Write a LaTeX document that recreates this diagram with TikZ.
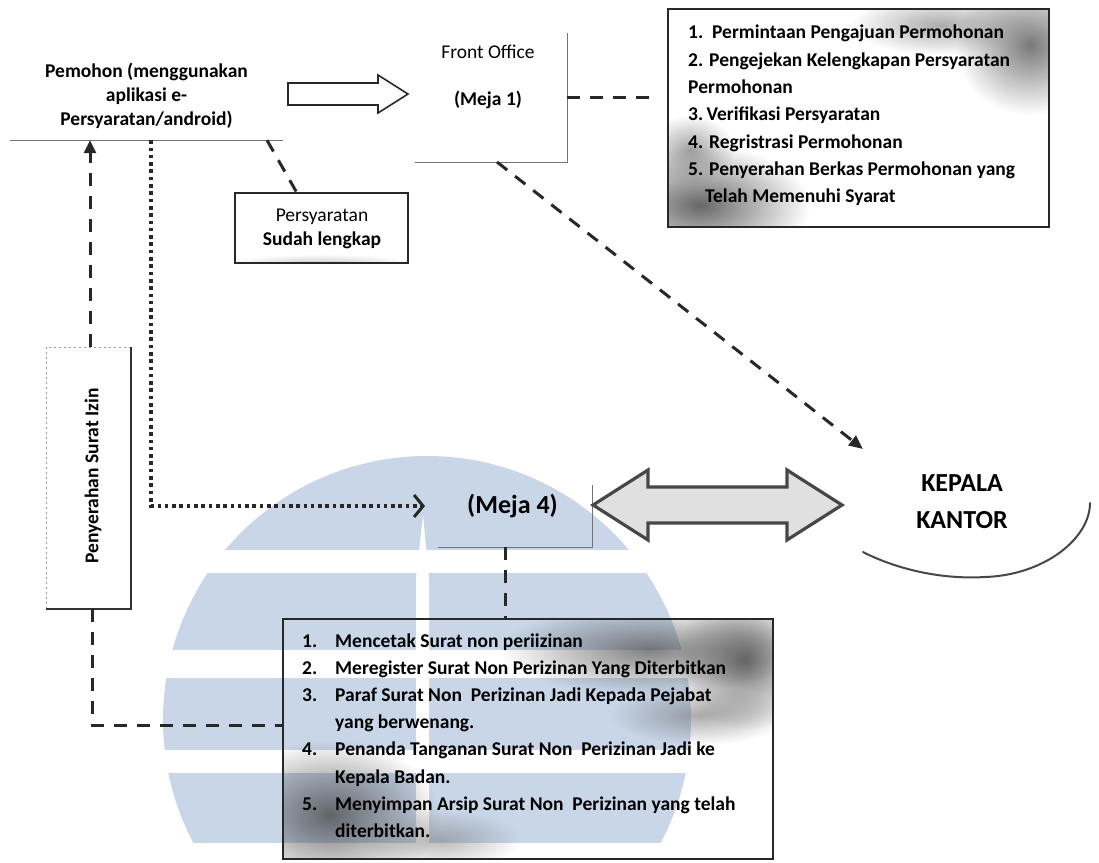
\documentclass[tikz,border=0pt]{standalone}
\usepackage{fontspec}
\setmainfont{Carlito}
\usetikzlibrary{arrows.meta,fadings,calc}
\definecolor{wmblue}{RGB}{200,214,232}
\definecolor{ink}{RGB}{40,40,40}
\tikzfading[name=softspot, inner color=transparent!0, outer color=transparent!100]
\begin{document}
\begin{tikzpicture}[x=1pt,y=-1pt,
  txt/.style={font=\fontsize{19.5}{24}\selectfont, inner sep=0pt, align=center},
  btxt/.style={font=\fontsize{19.5}{24}\selectfont\bfseries, inner sep=0pt, align=center},
  bigtxt/.style={font=\fontsize{26}{37}\selectfont\bfseries, inner sep=0pt, align=center},
  ltxt/.style={font=\fontsize{19.5}{27}\selectfont\bfseries, inner sep=0pt},
  frame/.style={inner sep=0pt, outer sep=0pt},
  edge/.style={draw=black!55, line width=1pt},
  boxline/.style={draw=ink, line width=1.3pt},
  dashline/.style={draw=ink, line width=3pt, dash pattern=on 13pt off 10pt},
  dotline/.style={draw=ink, line width=3.6pt, dash pattern=on 3.6pt off 3.7pt},
  hollow/.style={draw=ink, line width=1.6pt, fill=white, line join=miter},
  blockarrow/.style={draw=black!72, line width=3.2pt, fill=black!12, line join=miter},
  spot/.style={path fading=softspot, fill opacity=#1},
  spot/.default=0.6
]
\useasboundingbox (0,0) rectangle (1099,862);

% faint logo in the background
\begin{scope}
  \clip (427,720) circle (264);
  \fill[wmblue] (0,440) rectangle (1099,550);
  \fill[wmblue] (0,573) rectangle (1099,650);
  \fill[wmblue] (0,678) rectangle (1099,750);
  \fill[wmblue] (0,773) rectangle (1099,843);
\end{scope}
\fill[white] (423,515) -- (416,578) -- (416,862) -- (429,862) -- (429,578) -- cycle;

% applicant
\node[btxt, minimum width=273pt, minimum height=88pt] (pem) at (146.5,96)
  {Pemohon (menggunakan\\aplikasi e-\\Persyaratan/android)};
\draw[edge] (pem.south west) -- (pem.south east);

% front office
\node[frame, minimum width=152pt, minimum height=129pt] (fo) at (491,97.5) {};
\draw[edge] (fo.north east) -- (fo.south east) -- (fo.south west);
\node[txt] (fot) at (488,52) {Front Office};
\node[btxt] (m1) at (488,100) {(Meja 1)};

% hollow arrow applicant -> front office
\draw[hollow] (288,83) -- (378,83) -- (378,75) -- (408,94) -- (378,113)
  -- (378,105) -- (288,105) -- cycle;

% front office task list
\node[frame, minimum width=381pt, minimum height=218pt] (fl) at (858.5,118) {};
\begin{scope}
  \clip (fl.north west) rectangle (fl.south east);
  \fill[black!70, spot=0.75] (1030,45) ellipse [x radius=75, y radius=70];
  \fill[black!55, spot=0.6] (940,25) ellipse [x radius=90, y radius=30];
  \fill[black!75, spot=0.8] (700,205) ellipse [x radius=110, y radius=60];
  \fill[black!60, spot=0.6] (690,150) ellipse [x radius=45, y radius=35];
\end{scope}
\draw[boxline] (fl.north west) rectangle (fl.south east);
\foreach \t [count=\i] in {
  {1.\ \ Permintaan Pengajuan Permohonan},
  {2. Pengejekan Kelengkapan Persyaratan},
  {Permohonan},
  {3.\,Verifikasi Persyaratan},
  {4. Regristrasi Permohonan},
  {5. Penyerahan Berkas Permohonan yang},
  {\hspace{17pt}Telah Memenuhi Syarat}}
  \node[ltxt, anchor=base west] (fl\i) at (688, 11.5+27.3*\i) {\t};
\draw[dashline, shorten >=10pt] (fo.east) -- (fo.east -| fl.west);

% requirements complete
\node[frame, minimum width=173pt, minimum height=70pt] (ps) at (321.5,228) {};
\begin{scope}
  \clip (ps.north west) rectangle (ps.south east);
  \fill[black!50, spot=0.5] (321,266) ellipse [x radius=100, y radius=12];
\end{scope}
\draw[boxline] (ps.north west) rectangle (ps.south east);
\node[txt] (pst) at (322,229) {Persyaratan\\\textbf{Sudah lengkap}};
\draw[dashline] ([xshift=120.5pt]pem.south) -- ([xshift=-24.5pt]ps.north);

% head of office, with its hand-drawn outline
\node[bigtxt] (kk) at (962,502) {KEPALA\\KANTOR};
\coordinate (kr) at (1090,503);
\coordinate (kb) at (985,577);
\coordinate (kl) at (863,552);
\draw[draw=black!72, line width=2pt, line cap=round]
  (kr) .. controls (1090,538) and (1045,575) .. (kb)
       .. controls (935,580) and (890,566) .. (kl);
\coordinate (kin) at (863,449);
\draw[dashline, -{Triangle[length=14pt,width=12pt]}] ([xshift=6pt]fo.south) -- (kin);

% desk 4
\node[frame, minimum width=154pt, minimum height=62pt] (m4) at (515,516) {};
\draw[edge] (m4.north east) -- (m4.south east) -- (m4.south west);
\node[bigtxt] (m4t) at (512.5,506) {(Meja 4)};

% two-way arrow desk 4 <-> head of office
\draw[blockarrow] (593,505) -- (648,470) -- (648,487) -- (787,487) -- (787,470)
  -- (842,505) -- (787,540) -- (787,523) -- (648,523) -- (648,540) -- cycle;

% dotted route applicant -> desk 4
\draw[dotline, -{Straight Barb[length=9pt,width=22pt,line width=3pt]}]
  ([xshift=4.5pt]pem.south) |- ([xshift=-42pt]m4t.west);

% permit handover
\node[frame, minimum width=85pt, minimum height=262pt] (psz) at (88.5,478) {};
\draw[draw=black!40, line width=0.8pt, dash pattern=on 2pt off 3pt]
  (psz.south west) -- (psz.north west) -- (psz.north east);
\draw[draw=black!80, line width=2pt] (psz.north east) -- (psz.south east) -- (psz.south west);
\node[btxt, rotate=90] (psi) at (93,476) {Penyerahan Surat Izin};
\draw[dashline, -{Triangle[length=13pt,width=12pt]}]
  ([xshift=1.5pt]psz.north) -- ([xshift=1.5pt]psz.north |- pem.south);

% desk 4 task list
\node[frame, minimum width=490pt, minimum height=240pt] (l2) at (528,739) {};
\begin{scope}
  \clip (l2.north west) rectangle (l2.south east);
  \fill[black!70, spot=0.7] (650,650) ellipse [x radius=150, y radius=45];
  \fill[black!75, spot=0.75] (745,660) ellipse [x radius=70, y radius=70];
  \fill[black!60, spot=0.55] (700,715) ellipse [x radius=90, y radius=30];
  \fill[black!75, spot=0.75] (330,815) ellipse [x radius=110, y radius=75];
  \fill[black!55, spot=0.5] (440,840) ellipse [x radius=80, y radius=30];
\end{scope}
\draw[boxline] (l2.north west) rectangle (l2.south east);
\foreach \t [count=\i] in {
  {Mencetak Surat non periizinan},
  {Meregister Surat Non Perizinan Yang Diterbitkan},
  {Paraf Surat Non\ \ Perizinan Jadi Kepada Pejabat},
  {yang berwenang.},
  {Penanda Tanganan Surat Non\ \ Perizinan Jadi ke},
  {Kepala Badan.},
  {Menyimpan Arsip Surat Non\ \ Perizinan yang telah},
  {diterbitkan.}}
  \node[ltxt, anchor=base west] (lt\i) at (335, 620.4+27.1*\i) {\t};
\foreach \n/\k in {1/1,2/2,3/3,4/5,5/7}
  \node[ltxt, anchor=base west] (ln\n) at (302, 620.4+27.1*\k) {\n.};

\draw[dashline] ([xshift=-10pt]m4.south) -- ([xshift=-10pt]m4.south |- l2.north);
\draw[dashline] ([xshift=3.5pt]psz.south) |- ([yshift=14pt]l2.west);
\end{tikzpicture}
\end{document}
